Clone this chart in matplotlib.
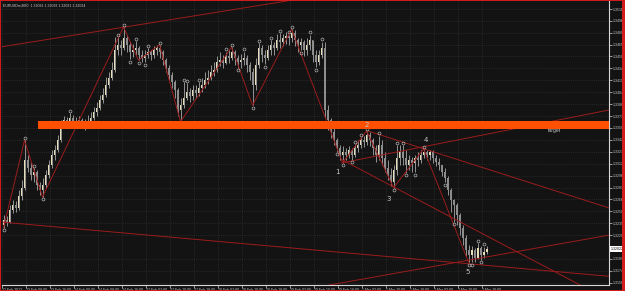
import numpy as np
import matplotlib
matplotlib.use("Agg")
import matplotlib.pyplot as plt
from matplotlib import font_manager
from matplotlib.patches import Rectangle
from matplotlib.transforms import blended_transform_factory

# ---------------- data (EURUSD, bars) ----------------
open0 = 1.3233
closes = [1.3239, 1.3237, 1.3252, 1.3259, 1.3255, 1.3270, 1.3281, 1.3317, 1.3306, 1.3297,
          1.3301, 1.3285, 1.3278, 1.3285, 1.3297, 1.3310, 1.3323, 1.3330, 1.3342, 1.3362,
          1.3368, 1.3366, 1.3371, 1.3367, 1.3363, 1.3368, 1.3364, 1.3360, 1.3366, 1.3371,
          1.3378, 1.3384, 1.3394, 1.3400, 1.3413, 1.3422, 1.3433, 1.3458, 1.3465, 1.3461,
          1.3474, 1.3465, 1.3456, 1.3458, 1.3461, 1.3452, 1.3448, 1.3452, 1.3456, 1.3452,
          1.3458, 1.3461, 1.3456, 1.3445, 1.3435, 1.3426, 1.3417, 1.3407, 1.3381, 1.3387,
          1.3396, 1.3404, 1.3399, 1.3407, 1.3403, 1.3409, 1.3413, 1.3420, 1.3422, 1.3430,
          1.3433, 1.3443, 1.3445, 1.3442, 1.3451, 1.3448, 1.3456, 1.3448, 1.3443, 1.3445,
          1.3448, 1.3439, 1.3430, 1.3413, 1.3439, 1.3461, 1.3452, 1.3448, 1.3458, 1.3465,
          1.3461, 1.3471, 1.3469, 1.3474, 1.3476, 1.3474, 1.3480, 1.3471, 1.3465, 1.3469,
          1.3458, 1.3465, 1.3471, 1.3452, 1.3443, 1.3452, 1.3461, 1.3381, 1.3368, 1.3353,
          1.3342, 1.3332, 1.3323, 1.3327, 1.3323, 1.3330, 1.3323, 1.3332, 1.3336, 1.3342,
          1.3340, 1.3349, 1.3342, 1.3332, 1.3323, 1.3336, 1.3319, 1.3306, 1.3297, 1.3288,
          1.3304, 1.3319, 1.3327, 1.3319, 1.3310, 1.3317, 1.3313, 1.3319, 1.3317, 1.3323,
          1.3327, 1.3323, 1.3327, 1.3319, 1.3314, 1.3310, 1.3301, 1.3294, 1.3278, 1.3265,
          1.3259, 1.3246, 1.3229, 1.3216, 1.3201, 1.3194, 1.3201, 1.3191, 1.3203, 1.3194,
          1.3198, 1.3202]
highs = [1.3246, 1.3245, 1.3259, 1.3265, 1.3264, 1.3278, 1.3291, 1.3342, 1.3323, 1.3314,
         1.3306, 1.3304, 1.3288, 1.3294, 1.3304, 1.3317, 1.3330, 1.3336, 1.3349, 1.3368,
         1.3373, 1.3372, 1.3377, 1.3375, 1.3372, 1.3373, 1.3371, 1.3369, 1.3375, 1.3378,
         1.3385, 1.3391, 1.3400, 1.3409, 1.3423, 1.3430, 1.3443, 1.3475, 1.3475, 1.3471,
         1.3488, 1.3478, 1.3469, 1.3466, 1.3470, 1.3463, 1.3458, 1.3458, 1.3461, 1.3458,
         1.3463, 1.3465, 1.3465, 1.3458, 1.3448, 1.3439, 1.3430, 1.3420, 1.3409, 1.3396,
         1.3417, 1.3416, 1.3409, 1.3413, 1.3413, 1.3417, 1.3422, 1.3430, 1.3433, 1.3439,
         1.3443, 1.3451, 1.3456, 1.3452, 1.3456, 1.3458, 1.3462, 1.3458, 1.3452, 1.3453,
         1.3456, 1.3452, 1.3443, 1.3435, 1.3448, 1.3467, 1.3465, 1.3458, 1.3465, 1.3471,
         1.3469, 1.3479, 1.3480, 1.3479, 1.3481, 1.3478, 1.3485, 1.3484, 1.3474, 1.3474,
         1.3471, 1.3474, 1.3478, 1.3471, 1.3458, 1.3458, 1.3469, 1.3469, 1.3387, 1.3371,
         1.3358, 1.3345, 1.3336, 1.3335, 1.3332, 1.3335, 1.3332, 1.3337, 1.3342, 1.3346,
         1.3348, 1.3354, 1.3353, 1.3345, 1.3336, 1.3348, 1.3342, 1.3327, 1.3317, 1.3306,
         1.3310, 1.3336, 1.3336, 1.3336, 1.3330, 1.3323, 1.3321, 1.3323, 1.3327, 1.3330,
         1.3331, 1.3330, 1.3330, 1.3330, 1.3323, 1.3319, 1.3310, 1.3306, 1.3296, 1.3281,
         1.3266, 1.3261, 1.3248, 1.3233, 1.3220, 1.3207, 1.3206, 1.3203, 1.3210, 1.3206,
         1.3205, 1.3206]
lows = [1.3229, 1.3232, 1.3236, 1.3248, 1.3250, 1.3252, 1.3265, 1.3278, 1.3301, 1.3291,
        1.3288, 1.3278, 1.3272, 1.3269, 1.3281, 1.3294, 1.3306, 1.3317, 1.3327, 1.3340,
        1.3358, 1.3359, 1.3362, 1.3360, 1.3358, 1.3359, 1.3358, 1.3355, 1.3358, 1.3362,
        1.3368, 1.3373, 1.3381, 1.3390, 1.3398, 1.3409, 1.3420, 1.3430, 1.3452, 1.3452,
        1.3458, 1.3456, 1.3447, 1.3449, 1.3452, 1.3445, 1.3443, 1.3443, 1.3448, 1.3445,
        1.3448, 1.3452, 1.3448, 1.3439, 1.3430, 1.3420, 1.3409, 1.3396, 1.3373, 1.3366,
        1.3384, 1.3394, 1.3391, 1.3394, 1.3396, 1.3399, 1.3404, 1.3409, 1.3414, 1.3420,
        1.3425, 1.3430, 1.3438, 1.3435, 1.3440, 1.3442, 1.3445, 1.3439, 1.3435, 1.3435,
        1.3439, 1.3430, 1.3420, 1.3387, 1.3407, 1.3435, 1.3443, 1.3440, 1.3445, 1.3452,
        1.3452, 1.3458, 1.3461, 1.3463, 1.3466, 1.3465, 1.3469, 1.3463, 1.3456, 1.3458,
        1.3451, 1.3452, 1.3458, 1.3443, 1.3436, 1.3439, 1.3448, 1.3371, 1.3355, 1.3345,
        1.3336, 1.3327, 1.3317, 1.3313, 1.3317, 1.3319, 1.3317, 1.3321, 1.3327, 1.3332,
        1.3333, 1.3336, 1.3335, 1.3323, 1.3314, 1.3317, 1.3310, 1.3301, 1.3291, 1.3283,
        1.3281, 1.3297, 1.3310, 1.3310, 1.3300, 1.3304, 1.3301, 1.3301, 1.3309, 1.3313,
        1.3319, 1.3317, 1.3317, 1.3313, 1.3309, 1.3304, 1.3296, 1.3288, 1.3272, 1.3250,
        1.3237, 1.3233, 1.3220, 1.3207, 1.3193, 1.3185, 1.3185, 1.3185, 1.3189, 1.3188,
        1.3191, 1.3196]

# fractal / swing markers (bar index, price)
frac_i = [0, 7, 10, 13, 22, 38, 40, 42, 44, 45, 47, 48, 52, 60, 61, 65, 74, 76, 78, 80,
          83, 85, 87, 89, 92, 95, 96, 99, 102, 104, 106, 111, 113, 116, 117, 119, 121, 125,
          130, 131, 133, 134, 137, 140, 147, 150, 155, 156, 158, 159, 160]
frac_p = [1.3227, 1.3345, 1.3309, 1.3266, 1.3380, 1.3478, 1.3491, 1.3443, 1.3472, 1.3442,
          1.3439, 1.3464, 1.3467, 1.3420, 1.3418, 1.3420, 1.3459, 1.3465, 1.3432, 1.3459,
          1.3383, 1.3470, 1.3437, 1.3474, 1.3483, 1.3481, 1.3488, 1.3455, 1.3481, 1.3433,
          1.3472, 1.3324, 1.3310, 1.3314, 1.3340, 1.3349, 1.3357, 1.3351, 1.3278, 1.3339,
          1.3339, 1.3297, 1.3298, 1.3334, 1.3285, 1.3234, 1.3182, 1.3182, 1.3213, 1.3185,
          1.3208]

# zigzag swings
zz_i = [0, 7, 13, 40, 45, 52, 59, 76, 83, 96, 113, 121, 130, 140, 155]
zz_p = [1.3229, 1.3342, 1.3269, 1.3488, 1.3445, 1.3465, 1.3366, 1.3462, 1.3387, 1.3485,
        1.3313, 1.3354, 1.3281, 1.3331, 1.3185]

# trend lines: (x1, p1, x2, p2) in bar index / price
trend_lines = [(-1.2, 1.3462, 96.5, 1.35226),
               (-1.2, 1.3237, 201.8, 1.3167),
               (98.8, 1.3149, 201.8, 1.3220),
               (121.5, 1.3354, 201.8, 1.3255),
               (112.8, 1.3317, 195.5, 1.3149),
               (112.8, 1.3313, 201.8, 1.3381)]

# support/resistance zone
zone_start = 11.5
zone_low, zone_high = 1.3357, 1.3367

wave_labels = ["1", "2", "3", "4", "5"]
wave_i = [111.2, 121.2, 128.5, 140.8, 154.8]
wave_p = [1.3301, 1.3362, 1.3266, 1.3342, 1.3173]
target_i, target_p = 181.5, 1.3354

x_labels = ["22 Feb 2012", "23 Feb 08:00", "23 Feb 16:00", "24 Feb 00:00", "24 Feb 08:00",
            "24 Feb 16:00", "27 Feb 02:00", "27 Feb 10:00", "27 Feb 18:00", "28 Feb 02:00",
            "28 Feb 10:00", "28 Feb 18:00", "29 Feb 02:00", "29 Feb 10:00", "29 Feb 18:00",
            "1 Mar 02:00", "1 Mar 10:00", "1 Mar 18:00", "2 Mar 02:00", "2 Mar 10:00",
            "2 Mar 18:00"]
y_ticks = [1.35110, 1.34960, 1.34805, 1.34650, 1.34500, 1.34345, 1.34190, 1.34040, 1.33885,
           1.33730, 1.33580, 1.33425, 1.33270, 1.33120, 1.32965, 1.32810, 1.32660, 1.32505,
           1.32355, 1.32200, 1.31895, 1.31740, 1.31585]
last_price = 1.32022
title = "EURUSDm,M30  1.32081 1.32093 1.32081 1.32034"

# ---------------- styling ----------------
names = {f.name for f in font_manager.fontManager.ttflist}
if "Liberation Sans Narrow" in names:
    small_font, small_size = "Liberation Sans Narrow", 3.0
elif "Liberation Sans" in names:
    small_font, small_size = "Liberation Sans", 2.5
else:
    small_font, small_size = "DejaVu Sans", 2.3

BG = "#131313"
FG = "#c8c8c8"
RED = "#9c1c1c"
BULL = "#e6deb8"
BEAR = "#8c8c8c"
WICK = "#a8a8a8"

W, H = 625, 291
fig = plt.figure(figsize=(W / 100, H / 100), dpi=100, facecolor=BG)
ax = fig.add_axes([2 / W, (H - 285) / H, 607 / W, 284 / H], facecolor=BG)

closes = np.array(closes)
highs = np.array(highs)
lows = np.array(lows)
opens = np.concatenate([[open0], closes[:-1]])
idx = np.arange(len(closes))
lo = np.minimum(lows, np.minimum(opens, closes))
hi = np.maximum(highs, np.maximum(opens, closes))

ax.vlines(idx, lo, hi, colors=WICK, lw=0.6, zorder=2)
body = closes - opens
body = np.where(np.abs(body) < 0.00004, 0.00004, body)
up = closes >= opens
ax.bar(idx[up], body[up], bottom=opens[up], width=0.62, color=BULL, lw=0, zorder=2.5)
ax.bar(idx[~up], body[~up], bottom=opens[~up], width=0.62, color=BEAR, lw=0, zorder=2.5)

# zigzag and trend lines
ax.plot(zz_i, zz_p, color=RED, lw=0.7, zorder=3)
for x1, p1, x2, p2 in trend_lines:
    ax.plot([x1, x2], [p1, p2], color=RED, lw=0.7, zorder=3)

# fractal circles
ax.plot(frac_i, frac_p, ls="none", marker="o", ms=2.1, mfc="none", mec="#bdbdbd", mew=0.45,
        zorder=4)

# zone
ax.add_patch(Rectangle((zone_start, zone_low), 300, zone_high - zone_low,
                       facecolor="#ff4f00", edgecolor="none", zorder=5))

for lab, xi, pi in zip(wave_labels, wave_i, wave_p):
    ax.text(xi, pi, lab, color=FG, fontsize=5, ha="center", va="center", zorder=6)
ax.text(target_i, target_p, "target", color=FG, fontsize=3.6, ha="left", va="center",
        zorder=6, family=small_font)

ax.text(0.002, 0.992, title, transform=ax.transAxes, color=FG, fontsize=small_size,
        ha="left", va="top", family=small_font, zorder=6)

# axes
ax.set_xlim(-0.5, 201.8)
ax.set_ylim(1.31558, 1.35213)
xt = [8 * k - 0.5 for k in range(len(x_labels))]
ax.set_xticks(xt)
ax.set_xticklabels(x_labels, ha="left", fontsize=small_size, color=FG, family=small_font)
ax.yaxis.tick_right()
ax.set_yticks(y_ticks)
ax.set_yticklabels([f"{v:.5f}" for v in y_ticks], fontsize=small_size, color=FG,
                   family=small_font)
ax.tick_params(axis="x", length=2, width=0.5, color="#d0d0d0", pad=0.5)
ax.tick_params(axis="y", length=2, width=0.5, color="#d0d0d0", pad=0.8)
ax.grid(True, color="#3a3a3a", ls=(0, (1, 2)), lw=0.5, zorder=0)
for s in ("left", "top"):
    ax.spines[s].set_visible(False)
for s in ("right", "bottom"):
    ax.spines[s].set_color("#d8d8d8")
    ax.spines[s].set_linewidth(0.8)

# last price box
tr = blended_transform_factory(ax.transAxes, ax.transData)
ax.text(1.003, last_price, f"{last_price:.5f}", transform=tr, fontsize=small_size,
        color="black", ha="left", va="center", family=small_font,
        bbox=dict(facecolor="white", edgecolor="none", pad=0.5), zorder=7)

# window frame
RF = "#d01c1c"
for (x0, y0, w, h) in [(0, 0, 1 / W, 1), (622 / W, 0, 3 / W, 1), (0, 1 - 1 / H, 1, 1 / H),
                       (0, 0, 1, 1 / H)]:
    fig.add_artist(Rectangle((x0, y0), w, h, transform=fig.transFigure,
                             facecolor=RF, edgecolor="none", zorder=10))

fig.savefig("out.png", dpi=100, facecolor=BG)
